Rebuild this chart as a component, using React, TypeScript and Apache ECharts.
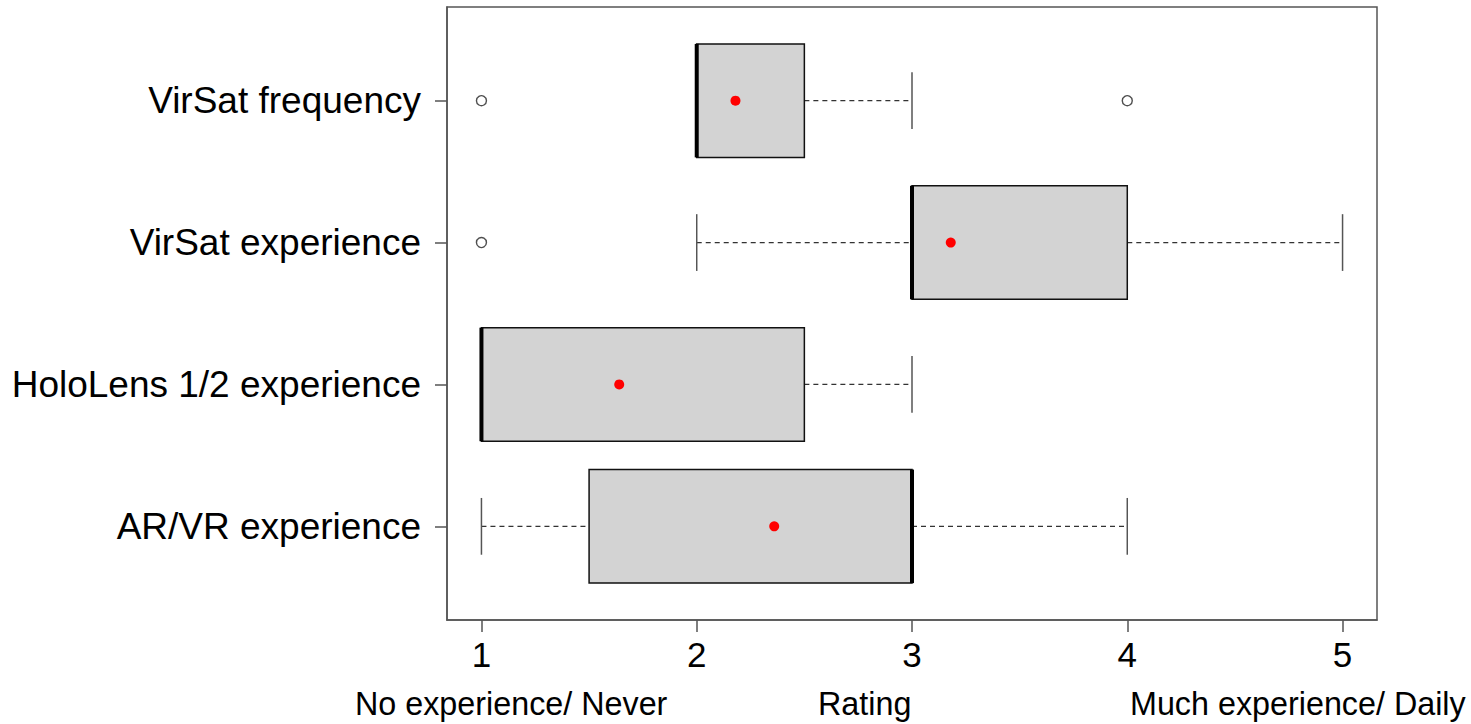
import React, { useEffect, useRef } from "react";
import * as echarts from "echarts";

const categories = ["AR/VR experience", "HoloLens 1/2 experience", "VirSat experience", "VirSat frequency"];
const categoryPositions = [1, 2, 3, 4];
const whiskerLow = [1, 1, 2, 2];
const q1 = [1.5, 1, 3, 2];
const median = [3, 1, 3, 2];
const q3 = [3, 2.5, 4, 2.5];
const whiskerHigh = [4, 3, 5, 3];
const means = [2.36, 1.64, 3.18, 2.18];
// [category position, value]
const outliers: [number, number][] = [
  [3, 1],
  [4, 1],
  [4, 4],
];
const xTicks = [1, 2, 3, 4, 5];
const bottomLabels = ["No experience/ Never", "Rating", "Much experience/ Daily"];

const FONT = "'Liberation Sans', Arial, sans-serif";

export default function App() {
  const ref = useRef<HTMLDivElement>(null);
  useEffect(() => {
    if (!ref.current) return;
    const chart = echarts.init(ref.current, null, { renderer: "svg" });
    const boxData = categoryPositions.map((p, i) => [p, whiskerLow[i], q1[i], median[i], q3[i], whiskerHigh[i]]);
    const option: any = {
      animation: false,
      backgroundColor: "#fff",
      grid: {
        left: 447,
        right: 94,
        top: 7,
        bottom: 104,
        show: true,
        borderColor: "#555",
        borderWidth: 1.5,
        backgroundColor: "transparent",
      },
      xAxis: {
        type: "value",
        min: 0.84,
        max: 5.16,
        splitLine: { show: false },
        axisLine: { show: true, lineStyle: { color: "#555", width: 1.5 } },
        axisTick: { show: true, length: 12, customValues: xTicks, lineStyle: { color: "#555", width: 1.5 } },
        axisLabel: {
          customValues: xTicks,
          fontSize: 35,
          color: "#000",
          fontFamily: FONT,
          margin: 17,
        },
      },
      yAxis: {
        type: "value",
        min: 0.34,
        max: 4.66,
        splitLine: { show: false },
        axisLine: { show: true, lineStyle: { color: "#555", width: 1.5 } },
        axisTick: { show: true, length: 12, customValues: categoryPositions, lineStyle: { color: "#555", width: 1.5 } },
        axisLabel: {
          customValues: categoryPositions,
          formatter: (v: number) => categories[Math.round(v) - 1] ?? "",
          fontSize: 37,
          color: "#000",
          fontFamily: FONT,
          margin: 26,
        },
      },
      graphic: [
        { type: "text", left: 355, top: 688, style: { text: bottomLabels[0], fontSize: 32.3, fontFamily: FONT, fill: "#000" } },
        { type: "text", left: 818, top: 688, style: { text: bottomLabels[1], fontSize: 32.3, fontFamily: FONT, fill: "#000" } },
        { type: "text", left: 1130, top: 688, style: { text: bottomLabels[2], fontSize: 32.3, fontFamily: FONT, fill: "#000" } },
      ],
      series: [
        {
          type: "custom",
          data: boxData,
          encode: { x: [1, 2, 3, 4, 5], y: 0 },
          renderItem: (params: any, api: any) => {
            const y = api.value(0);
            const lo = api.value(1);
            const a = api.value(2);
            const m = api.value(3);
            const b = api.value(4);
            const hi = api.value(5);
            const pLo = api.coord([lo, y]);
            const pA = api.coord([a, y]);
            const pM = api.coord([m, y]);
            const pB = api.coord([b, y]);
            const pHi = api.coord([hi, y]);
            const top = api.coord([a, y + 0.4])[1];
            const bot = api.coord([a, y - 0.4])[1];
            const capTop = api.coord([a, y + 0.2])[1];
            const capBot = api.coord([a, y - 0.2])[1];
            const cy = pA[1];
            const children: any[] = [];
            const dash = { stroke: "#333", lineWidth: 1.2, lineDash: [5, 4] };
            const cap = { stroke: "#555", lineWidth: 1.5 };
            if (lo < a) {
              children.push({ type: "line", shape: { x1: pLo[0], y1: cy, x2: pA[0], y2: cy }, style: dash });
              children.push({ type: "line", shape: { x1: pLo[0], y1: capTop, x2: pLo[0], y2: capBot }, style: cap });
            }
            if (hi > b) {
              children.push({ type: "line", shape: { x1: pB[0], y1: cy, x2: pHi[0], y2: cy }, style: dash });
              children.push({ type: "line", shape: { x1: pHi[0], y1: capTop, x2: pHi[0], y2: capBot }, style: cap });
            }
            children.push({
              type: "rect",
              shape: { x: pA[0], y: top, width: pB[0] - pA[0], height: bot - top },
              style: { fill: "#d3d3d3", stroke: "#111", lineWidth: 1.5 },
            });
            children.push({
              type: "line",
              shape: { x1: pM[0], y1: top, x2: pM[0], y2: bot },
              style: { stroke: "#000", lineWidth: 4 },
            });
            return { type: "group", children };
          },
          z: 2,
        },
        {
          type: "scatter",
          data: outliers.map(([p, v]) => [v, p]),
          symbol: "circle",
          symbolSize: 10,
          itemStyle: { color: "#fff", borderColor: "#222", borderWidth: 1.4 },
          z: 3,
        },
        {
          type: "scatter",
          data: means.map((v, i) => [v, categoryPositions[i]]),
          symbol: "circle",
          symbolSize: 10,
          itemStyle: { color: "#ff0000", opacity: 1 },
          z: 4,
        },
      ],
    };
    chart.setOption(option);
    return () => chart.dispose();
  }, []);
  return (
    <div
      ref={ref}
      style={{ position: "fixed", left: 0, top: 0, width: 1471, height: 724, background: "#fff" }}
    />
  );
}
